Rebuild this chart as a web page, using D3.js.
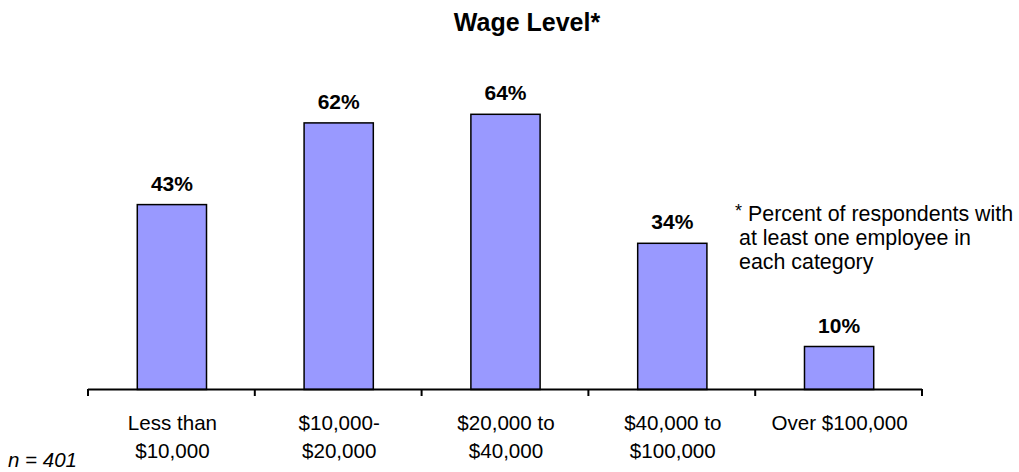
<!DOCTYPE html>
<html><head><meta charset="utf-8">
<script src="https://cdn.jsdelivr.net/npm/d3@7"></script>
<style>body{margin:0;background:#fff}svg{display:block;font-family:"Liberation Sans",Arial,sans-serif}</style>
</head><body><svg id="c" width="1019" height="472"></svg>
<script>
const categories = [["Less than","$10,000"],["$10,000-","$20,000"],["$20,000 to","$40,000"],["$40,000 to","$100,000"],["Over $100,000"]];
const values = [43, 62, 64, 34, 10];
const title = "Wage Level*";
const footnote = ["Percent of respondents with","at least one employee in","each category"];
const sampleNote = "n = 401";

const svg = d3.select("#c");
const keys = categories.map((c,i)=>i);
const x = d3.scaleBand().domain(keys).range([88, 922]).padding(0);
const y = d3.scaleLinear().domain([0, 70]).range([389.5, 88.5]);
const barW = x.bandwidth()*0.415;

svg.append("text").attr("x",527).attr("y",31).attr("text-anchor","middle")
  .attr("font-weight","bold").attr("font-size",25).text(title);

svg.selectAll("rect.bar").data(values).enter().append("rect")
  .attr("x",(d,i)=>x(i)+x.bandwidth()/2-barW/2+0.5)
  .attr("y",d=>y(d)).attr("width",barW).attr("height",d=>y(0)-y(d))
  .attr("fill","#9999FF").attr("stroke","#000").attr("stroke-width",1.5);

svg.selectAll("text.val").data(values).enter().append("text")
  .attr("x",(d,i)=>x(i)+x.bandwidth()/2+0.5).attr("y",d=>y(d)-14)
  .attr("text-anchor","middle").attr("font-weight","bold").attr("font-size",21)
  .text(d=>d+"%");

// axis
const ax = svg.append("g");
ax.append("line").attr("x1",88).attr("x2",922).attr("y1",389.5).attr("y2",389.5).attr("stroke","#000").attr("stroke-width",2);
const tickPos = keys.map(k=>x(k)).concat([x(keys[keys.length-1])+x.bandwidth()]);
ax.selectAll("line.t").data(tickPos).enter().append("line")
  .attr("x1",d=>d).attr("x2",d=>d).attr("y1",389).attr("y2",396).attr("stroke","#000").attr("stroke-width",2);

const lab = svg.selectAll("text.cat").data(categories).enter().append("text")
  .attr("text-anchor","middle").attr("font-size",20.6);
lab.each(function(lines,i){
  const t=d3.select(this);
  lines.forEach((l,j)=>t.append("tspan").attr("x",x(i)+x.bandwidth()/2+1).attr("y",430+j*28).text(l));
});

// footnote
svg.append("text").attr("x",735).attr("y",217).attr("font-size",18).text("*");
footnote.forEach((l,j)=>svg.append("text").attr("x",j===0?748:739).attr("y",221+j*24).attr("font-size",21.4).text(l));

svg.append("text").attr("x",8).attr("y",467).attr("font-size",20.5).attr("font-style","italic").text(sampleNote);
</script></body></html>
